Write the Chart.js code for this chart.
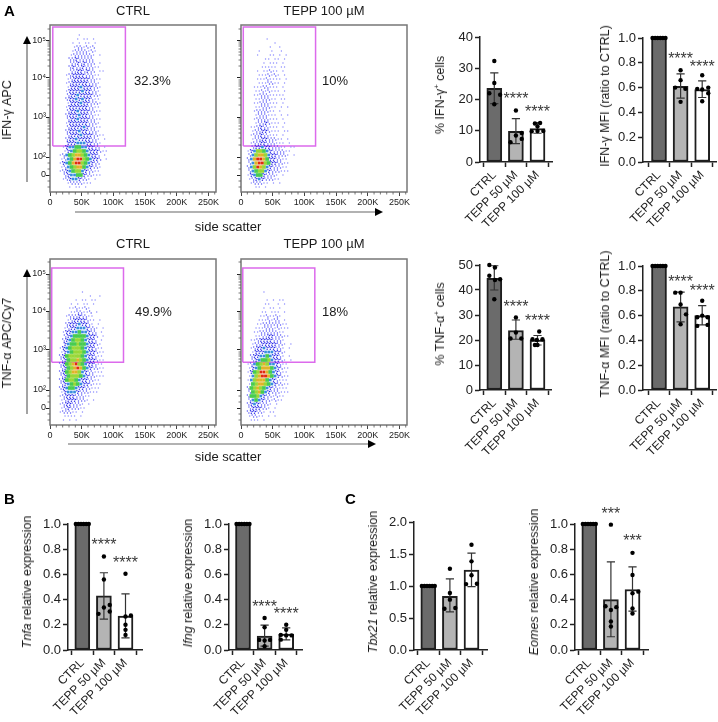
<!DOCTYPE html>
<html>
<head>
<meta charset="utf-8">
<title>TEPP flow and expression panels</title>
<script src="https://cdn.jsdelivr.net/npm/chart.js@4/dist/chart.umd.min.js"></script>
<style>
  body { margin: 0; background: #fff; width: 718px; height: 722px; position: relative; overflow: hidden; font-family: "Liberation Sans", Arial, sans-serif; color: #1a1a1a; }
  canvas { position: absolute; filter: blur(0.3px); }
  canvas.flow { filter: blur(0.4px); }
  .txt { position: absolute; white-space: nowrap; transform: translate(-50%, -50%); font-size: 13px; filter: blur(0.2px); }
  .txt.left { transform: translate(0, -50%); }
  .txt.rot { transform: translate(-50%, -50%) rotate(-90deg); font-size: 12.5px; }
  .txt.letter { font-weight: bold; font-size: 15px; color: #000; }
  sup { font-size: 8px; line-height: 0; }
  svg { position: absolute; left: 0; top: 0; }
</style>
</head>
<body>
<svg width="718" height="722">
  <g stroke="#666" stroke-width="1.2" fill="none">
    <line x1="75" y1="212" x2="376" y2="212"/>
    <line x1="68" y1="444" x2="369" y2="444"/>
    <line x1="27" y1="182" x2="27" y2="42"/>
    <line x1="27" y1="414" x2="27" y2="275"/>
  </g>
  <g fill="#000">
    <polygon points="375,208 375,216 383,212"/>
    <polygon points="368,440 368,448 376,444"/>
    <polygon points="23,44 31,44 27,36"/>
    <polygon points="23,277 31,277 27,269"/>
  </g>
</svg>
<script>
const groupLabels = ["CTRL", "TEPP 50 µM", "TEPP 100 µM"];
const barColours = ["#6b6b6b", "#b4b4b4", "#ffffff"];

// flow plots: x axis in K, y axis in display channels of the biexponential scale
const flowXTicks = [0, 50, 100, 150, 200, 250];
const flowXMinor = [10, 20, 30, 40, 60, 70, 80, 90, 110, 120, 130, 140, 160, 170, 180, 190, 210, 220, 230, 240, 260];
const flowYTicks = [0, 18, 58, 97, 134];
const flowYLabels = ["0", "10²", "10³", "10⁴", "10⁵"];
const flowYMinor = [-12, -6, 6, 12, 30, 37, 42, 46, 49, 52, 54, 56, 70, 77, 82, 86, 89, 91, 93, 95, 109, 115, 120, 123, 126, 129, 131, 133, 146];
const densityColours = ["#8a8aff", "#5050f6", "#2a2ae8", "#3a8ee0", "#48cc50", "#98d838", "#e0b428", "#e02c10"];
const densitySizes = [0.7, 0.7, 0.75, 1.9, 2.6, 2.6, 2.4, 2.1];
// dots drawn inside a cell for the three sparse levels, offset in K and channels
const sparseOffsets = [
  [[0, 0]],
  [[-1.2, 1], [1.2, -1]],
  [[-1.3, 1.2], [1.3, 0.6], [0, -1.2]]
];

// density, one string per 4 channel row, one char per 5K column
const ifnCtrlTop = 140;
const ifnCtrlX0 = 17.5;
const ifnCtrlGrid = [
  "......1........",
  ".....1.11.1....",
  "....1.1.11.1...",
  "....1221212....",
  "....12222121...",
  "...12222221.1..",
  "...22322222....",
  "...22323222.1..",
  "...2322322211..",
  "...22332322.11.",
  "..12333322211..",
  "..12333332211..",
  "..12333332221..",
  "..13334333221..",
  "..13333433221..",
  "..23343333221..",
  "..23343433211..",
  "..13334332221..",
  "..13333332211..",
  "..23343332211..",
  "..23334332211..",
  "..23343332211..",
  "..13333332221..",
  "..23333432211..",
  "..23334332221..",
  "..233343332211.",
  "..23343333221.1",
  "..33344433221..",
  ".134455443322.1",
  ".13456654333211",
  "1245677654332.1",
  "1245788654332.1",
  "1345788654322..",
  "1245677543221..",
  "1234566432211..",
  ".234455322111..",
  ".123443221.1...",
  "..12222111.....",
  "...1.11.1......"
];
const ifnTeppTop = 136;
const ifnTeppX0 = 12.5;
const ifnTeppGrid = [
  "......1........",
  "........1......",
  ".......1..1....",
  "...1...1..1....",
  "...1...11.1.1..",
  ".....11.11.1...",
  ".....1.111.1...",
  "....11111.11...",
  "...1.11211.1...",
  "...1112121.1...",
  "...11121111.1..",
  "...1112211.1...",
  "..11122111.1...",
  "..11212111.1...",
  "..1122211111...",
  "..1122211.11...",
  "..11222111.1...",
  "..1122211.1.1..",
  "..1222211.1....",
  "..1222111.1.1..",
  "..12222111.1...",
  "..12232111.1...",
  ".112322111.1...",
  ".122332111.11..",
  ".122322111.1...",
  ".1223322211.1..",
  ".12233222111.1.",
  ".23343322211.11",
  "13466543222211.",
  "2467764332221.1",
  "2478875332211..",
  "2478865332211..",
  "2468764322211..",
  "2456643222111..",
  "1345532221.1...",
  "1234322211.....",
  ".122211.1.1....",
  "..11.1........."
];
const tnfCtrlTop = 116;
const tnfCtrlX0 = 12.5;
const tnfCtrlGrid = [
  "........1......",
  "..........1..1.",
  "......1.11.11..",
  "....1.1.11.1...",
  "....1121121....",
  "....1122112.1..",
  "...122232211...",
  "...123333211.1.",
  "...233343321.1.",
  "..12334443221.1",
  "..13344544322.1",
  "..23455554332.1",
  "..23456654332.1",
  "..345565543321.",
  ".13456665433211",
  ".13456665433211",
  ".23566665433211",
  ".23566765433211",
  ".23567865433211",
  ".23567875432211",
  ".23567764322111",
  ".23566654322111",
  ".2356654332211.",
  ".2345654332111.",
  ".2345543322111.",
  ".134443222111..",
  ".1233322211....",
  ".123332221.1...",
  ".12332221.1....",
  ".12322211......",
  ".122211.1......",
  "..1111.1.......",
  "..1.1.1........"
];
const tnfTeppTop = 116;
const tnfTeppX0 = 7.5;
const tnfTeppGrid = [
  "......1........",
  "...............",
  ".......1.1.11..",
  "......11..1.1..",
  "......1.11.1...",
  ".....11.111.1..",
  ".....1121121...",
  "....1112122.1..",
  "....1122222211.",
  "...11122212111.",
  "...1122222211..",
  "...11223322211.",
  "..11233332221..",
  "..12233333221.1",
  "..12334333221.1",
  "..13334443321..",
  "..23344543321.1",
  "..23455643321.1",
  ".1245676443211.",
  ".1345777543211.",
  ".1356887543211.",
  ".1467887543211.",
  ".1467775432111.",
  ".1567765432211.",
  ".2567654322111.",
  ".2567543222111.",
  ".255643221211..",
  ".24543221211...",
  ".23432221.1....",
  ".2333221.1.....",
  ".233221.11.....",
  ".12211.1.1.....",
  "..111.1........"
];

// bar panels: means, error bar ends, dots (group + jitter on x), stars
const ifnPctMeans = [23.6, 9.8, 10.7];
const ifnPctHi = [28.5, 13.9, 12.6];
const ifnPctLo = [18.7, 5.9, 9.2];
const ifnPctDotX = [0, 0, -0.23, 0.27, 0, 1, 1.27, 1, 1.27, 0.75, 1.88, 2.12, 2, 1.73, 2, 2.27];
const ifnPctDotY = [32.3, 25.3, 22, 21.5, 18.5, 16.5, 9.3, 8.5, 7.4, 6.3, 12.3, 12.5, 11.4, 9.8, 9.9, 9.9];
const ifnPctStars = [21.3, 17.4];

const ifnMfiMeans = [1, 0.61, 0.585];
const ifnMfiHi = [null, 0.71, 0.655];
const ifnMfiLo = [null, 0.515, 0.52];
const ifnMfiDotX = [-0.3, -0.18, -0.06, 0.06, 0.18, 0.3, 1, 1, 0.75, 1.22, 1, 2, 1.77, 2, 2.28, 2.28, 2];
const ifnMfiDotY = [1, 1, 1, 1, 1, 1, 0.74, 0.66, 0.6, 0.59, 0.485, 0.7, 0.59, 0.585, 0.6, 0.555, 0.49];
const ifnMfiStars = [0.863, 0.796];

const tnfPctMeans = [44.7, 23.8, 20];
const tnfPctHi = [49.7, 28, 21.8];
const tnfPctLo = [40, 20.3, 18];
const tnfPctDotX = [-0.23, 0.03, -0.23, 0.03, 0.27, 0, 1, 1, 0.75, 1.25, 2.08, 1.77, 2.23, 1.97, 1.88, 2];
const tnfPctDotY = [50, 49, 45.7, 44, 44.3, 36.3, 29, 23, 20.6, 20.6, 23.4, 20.3, 20.3, 20, 18, 18];
const tnfPctStars = [35, 29.3];

const tnfMfiMeans = [1, 0.67, 0.6];
const tnfMfiHi = [null, 0.79, 0.68];
const tnfMfiLo = [null, 0.55, 0.525];
const tnfMfiDotX = [-0.3, -0.18, -0.06, 0.06, 0.18, 0.3, 0.75, 1, 1, 1.25, 1, 2, 1.77, 2.25, 2, 1.77, 2.25];
const tnfMfiDotY = [1, 1, 1, 1, 1, 1, 0.785, 0.785, 0.69, 0.61, 0.53, 0.72, 0.587, 0.587, 0.6, 0.517, 0.525];
const tnfMfiStars = [0.9, 0.834];

const tnfaMeans = [1, 0.43, 0.27];
const tnfaHi = [null, 0.613, 0.445];
const tnfaLo = [null, 0.245, 0.097];
const tnfaDotX = [-0.3, -0.18, -0.06, 0.06, 0.18, 0.3, 1, 1, 1, 1.27, 1.27, 0.75, 2, 2, 2.25, 2, 2, 2];
const tnfaDotY = [1, 1, 1, 1, 1, 1, 0.742, 0.56, 0.337, 0.358, 0.305, 0.287, 0.605, 0.266, 0.274, 0.2, 0.16, 0.12];
const tnfaStars = [0.863, 0.726];

const ifngMeans = [1, 0.11, 0.127];
const ifngHi = [null, 0.198, 0.175];
const ifngLo = [null, 0.03, 0.08];
const ifngDotX = [-0.3, -0.18, -0.06, 0.06, 0.18, 0.3, 1, 1, 0.75, 1.25, 1, 1, 2, 2, 1.75, 2.25, 2, 1.75];
const ifngDotY = [1, 1, 1, 1, 1, 1, 0.254, 0.18, 0.08, 0.08, 0.075, 0.03, 0.2, 0.16, 0.12, 0.116, 0.116, 0.082];
const ifngStars = [0.373, 0.315];

const tbx21Means = [1, 0.84, 1.25];
const tbx21Hi = [null, 1.11, 1.515];
const tbx21Lo = [null, 0.595, 0.99];
const tbx21DotX = [-0.3, -0.18, -0.06, 0.06, 0.18, 0.3, 1, 1, 1, 0.75, 1.25, 2, 2, 2, 1.75, 2.25];
const tbx21DotY = [1, 1, 1, 1, 1, 1, 1.27, 0.89, 0.787, 0.645, 0.656, 1.645, 1.385, 1.167, 1.03, 1.036];

const eomesMeans = [1, 0.4, 0.48];
const eomesHi = [null, 0.7, 0.66];
const eomesLo = [null, 0.105, 0.308];
const eomesDotX = [-0.3, -0.18, -0.06, 0.06, 0.18, 0.3, 1, 0.75, 1, 1.25, 1, 1, 2, 2, 2, 2.27, 2, 2];
const eomesDotY = [1, 1, 1, 1, 1, 1, 0.995, 0.347, 0.318, 0.34, 0.226, 0.187, 0.771, 0.595, 0.45, 0.463, 0.33, 0.29];
const eomesStars = [1.113, 0.895];

const starText = ["****", "****"];
const starTextC = ["***", "***"];

function addText(x, y, html, cls) {
  const d = document.createElement("div");
  d.className = "txt " + (cls || "");
  d.style.left = x + "px";
  d.style.top = y + "px";
  d.innerHTML = html;
  document.body.appendChild(d);
}

function addCanvas(left, top, w, h) {
  const c = document.createElement("canvas");
  c.width = w;
  c.height = h;
  c.style.left = left + "px";
  c.style.top = top + "px";
  document.body.appendChild(c);
  return c;
}

const flowOverlay = {
  id: "flowOverlay",
  afterDraw(chart) {
    const ctx = chart.ctx, a = chart.chartArea;
    const sx = chart.scales.x, sy = chart.scales.y;
    ctx.save();
    ctx.strokeStyle = "#777";
    ctx.lineWidth = 1.5;
    ctx.strokeRect(a.left, a.top, a.right - a.left, a.bottom - a.top);
    ctx.strokeStyle = "#555";
    ctx.lineWidth = 0.8;
    ctx.beginPath();
    flowXMinor.forEach(v => {
      const px = sx.getPixelForValue(v);
      ctx.moveTo(px, a.bottom);
      ctx.lineTo(px, a.bottom + 2.5);
    });
    flowYMinor.forEach(v => {
      const py = sy.getPixelForValue(v);
      if (py > a.top && py < a.bottom) {
        ctx.moveTo(a.left, py);
        ctx.lineTo(a.left - 2.5, py);
      }
    });
    ctx.stroke();
    ctx.restore();
  }
};

function flowPanel(left, right, top, bottom, yMin, yMax, grid, gridTop, x0, gateX, gateY, showY) {
  const padL = 32, padR = 14, padT = 6, padB = 20;
  const canvas = addCanvas(left - padL, top - padT, right - left + padL + padR, bottom - top + padT + padB);
  canvas.className = "flow";
  const levels = densityColours.map(() => []);
  grid.forEach((row, r) => {
    for (let i = 0; i < row.length; i++) {
      const d = parseInt(row[i]);
      if (!(d > 0)) continue;
      const cx = x0 + i * 5 + (r % 2 ? 1.25 : -1.25), cy = gridTop - r * 4;
      if (d <= 3) sparseOffsets[d - 1].forEach(o => levels[d - 1].push({ x: cx + o[0], y: cy + o[1] }));
      else levels[d - 1].push({ x: cx, y: cy });
    }
  });
  const dots = levels.map((pts, k) => ({
    data: pts,
    pointStyle: k < 3 ? "circle" : "rect",
    pointRadius: densitySizes[k],
    pointBackgroundColor: densityColours[k],
    pointBorderWidth: 0,
    showLine: false
  }));
  const gate = {
    data: gateX.map((x, i) => ({ x: x, y: gateY[i] })),
    showLine: true,
    borderColor: "#dc6aec",
    borderWidth: 1.5,
    pointRadius: 0,
    fill: false
  };
  new Chart(canvas, {
    type: "scatter",
    data: { datasets: dots.concat([gate]) },
    plugins: [flowOverlay],
    options: {
      responsive: false,
      animation: false,
      layout: { autoPadding: false, padding: { top: padT, right: padR } },
      plugins: { legend: { display: false }, tooltip: { enabled: false } },
      scales: {
        x: {
          type: "linear", min: 0, max: 262,
          afterFit(s) { s.height = padB; },
          afterBuildTicks(s) { s.ticks = flowXTicks.map(v => ({ value: v })); },
          border: { display: false },
          grid: { drawOnChartArea: false, tickLength: 4, tickColor: "#444", tickWidth: 1 },
          ticks: { autoSkip: false, maxRotation: 0, padding: 1, font: { size: 9, family: "Liberation Sans" }, color: "#222",
            callback: v => (v === 0 ? "0" : v + "K") }
        },
        y: {
          type: "linear", min: yMin, max: yMax,
          afterFit(s) { s.width = padL; },
          afterBuildTicks(s) { s.ticks = flowYTicks.map(v => ({ value: v })); },
          border: { display: false },
          grid: { drawOnChartArea: false, tickLength: 4, tickColor: "#222", tickWidth: 1 },
          ticks: { autoSkip: false, padding: 0, font: { size: 9, family: "Liberation Sans" }, color: "#222",
            callback: (v, i) => (showY ? flowYLabels[i] : "") }
        }
      }
    }
  });
}

const starPlugin = {
  id: "stars",
  afterDatasetsDraw(chart, args, opts) {
    if (!opts.values) return;
    const ctx = chart.ctx;
    ctx.save();
    ctx.font = "16px 'Liberation Sans'";
    ctx.fillStyle = "#3a3a3a";
    ctx.textAlign = "center";
    ctx.textBaseline = "alphabetic";
    opts.values.forEach((v, i) => {
      ctx.fillText(opts.text[i], chart.scales.x.getPixelForValue(i + 1), chart.scales.y.getPixelForValue(v) + 9);
    });
    ctx.restore();
  }
};

function barPanel(left, right, top, bottom, x0, yMax, yStep, decimals, means, hi, lo, dotX, dotY, stars, starLabels) {
  const padL = 40, padR = 6, padT = 24, padB = 84;
  const canvas = addCanvas(left - padL, top - padT, right - left + padL + padR, bottom - top + padT + padB);
  const unit = 21.6;
  const errPts = [];
  means.forEach((m, i) => {
    if (hi[i] === null) return;
    errPts.push({ x: i - 0.19, y: hi[i] }, { x: i + 0.19, y: hi[i] }, { x: i, y: null },
      { x: i, y: hi[i] }, { x: i, y: lo[i] }, { x: i, y: null },
      { x: i - 0.19, y: lo[i] }, { x: i + 0.19, y: lo[i] }, { x: i, y: null });
  });
  new Chart(canvas, {
    data: {
      datasets: [
        { type: "bar", data: means.map((m, i) => ({ x: i, y: m })), backgroundColor: barColours,
          borderColor: "#1e1e1e", borderWidth: 2, borderSkipped: false, barThickness: 15, order: 3 },
        { type: "scatter", data: errPts, showLine: true, spanGaps: false, borderColor: "#333", borderWidth: 1.2,
          pointRadius: 0, clip: false, order: 2 },
        { type: "scatter", data: dotX.map((x, i) => ({ x: x, y: dotY[i] })), pointRadius: 2.2,
          pointBackgroundColor: "#000", pointBorderWidth: 0, clip: false, order: 1 }
      ]
    },
    plugins: [starPlugin],
    options: {
      responsive: false,
      animation: false,
      layout: { autoPadding: false, padding: { top: padT, right: padR } },
      plugins: { legend: { display: false }, tooltip: { enabled: false }, stars: { values: stars, text: starLabels } },
      scales: {
        x: {
          type: "linear", offset: false, min: (left - x0) / unit, max: (right - x0) / unit,
          afterFit(s) { s.height = padB; },
          afterBuildTicks(s) { s.ticks = [0, 1, 2].map(v => ({ value: v })); },
          border: { color: "#222", width: 1.5 },
          grid: { drawOnChartArea: false, tickLength: 5, tickColor: "#222", tickWidth: 1.5 },
          ticks: { autoSkip: false, minRotation: 45, maxRotation: 45, padding: 1, font: { size: 12, family: "Liberation Sans" }, color: "#222",
            callback: v => groupLabels[v] }
        },
        y: {
          type: "linear", min: 0, max: yMax,
          afterFit(s) { s.width = padL; },
          border: { color: "#222", width: 1.5 },
          grid: { drawOnChartArea: false, tickLength: 5, tickColor: "#222", tickWidth: 1.5 },
          ticks: { stepSize: yStep, padding: 2, font: { size: 13, family: "Liberation Sans" }, color: "#222",
            callback: v => v.toFixed(decimals) }
        }
      }
    }
  });
}

// flow plots
flowPanel(50, 216, 25, 192, -17, 150, ifnCtrlGrid, ifnCtrlTop, ifnCtrlX0, [4.4, 119, 119, 4.4, 4.4], [29, 29, 148, 148, 29], true);
flowPanel(241, 407, 25, 192, -17, 150, ifnTeppGrid, ifnTeppTop, ifnTeppX0, [3.6, 117.7, 117.7, 3.6, 3.6], [29, 29, 148, 148, 29], false);
flowPanel(50, 216, 259, 425, -17, 149, tnfCtrlGrid, tnfCtrlTop, tnfCtrlX0, [2.7, 116, 116, 2.7, 2.7], [45.7, 45.7, 140, 140, 45.7], true);
flowPanel(241, 407, 259, 425, -17, 149, tnfTeppGrid, tnfTeppTop, tnfTeppX0, [2.8, 116.5, 116.5, 2.8, 2.8], [45.7, 45.7, 140, 140, 45.7], false);

// bars, panel A
barPanel(480, 552, 37, 162, 494.3, 40, 10, 0, ifnPctMeans, ifnPctHi, ifnPctLo, ifnPctDotX, ifnPctDotY, ifnPctStars, starText);
barPanel(643, 716, 38, 162, 659, 1, 0.2, 1, ifnMfiMeans, ifnMfiHi, ifnMfiLo, ifnMfiDotX, ifnMfiDotY, ifnMfiStars, starText);
barPanel(480, 551, 265, 390, 494.3, 50, 10, 0, tnfPctMeans, tnfPctHi, tnfPctLo, tnfPctDotX, tnfPctDotY, tnfPctStars, starText);
barPanel(643, 716, 266, 390, 659, 1, 0.2, 1, tnfMfiMeans, tnfMfiHi, tnfMfiLo, tnfMfiDotX, tnfMfiDotY, tnfMfiStars, starText);

// panels B and C
barPanel(68, 142, 524, 650, 82.3, 1, 0.2, 1, tnfaMeans, tnfaHi, tnfaLo, tnfaDotX, tnfaDotY, tnfaStars, starText);
barPanel(229, 302, 524, 650, 243, 1, 0.2, 1, ifngMeans, ifngHi, ifngLo, ifngDotX, ifngDotY, ifngStars, starText);
barPanel(414, 487, 522, 650, 428.3, 2, 0.5, 1, tbx21Means, tbx21Hi, tbx21Lo, tbx21DotX, tbx21DotY, null, null);
barPanel(575, 648, 524, 650, 589.3, 1, 0.2, 1, eomesMeans, eomesHi, eomesLo, eomesDotX, eomesDotY, eomesStars, starTextC);

// text
addText(4, 10, "A", "left letter");
addText(4, 498, "B", "left letter");
addText(345, 498, "C", "left letter");
addText(133, 10, "CTRL");
addText(324, 10, "TEPP 100 µM");
addText(133, 243, "CTRL");
addText(324, 243, "TEPP 100 µM");
addText(134, 80, "32.3%", "left");
addText(322, 80, "10%", "left");
addText(135, 311, "49.9%", "left");
addText(322, 311, "18%", "left");
addText(228, 226, "side scatter");
addText(228, 456, "side scatter");
addText(7, 110, "IFN-γ APC", "rot");
addText(7, 343, "TNF-α APC/Cy7", "rot");
addText(440, 95, "% IFN-γ<sup>+</sup> cells", "rot");
addText(605, 96, "IFN-γ MFI (ratio to CTRL)", "rot");
addText(440, 324, "% TNF-α<sup>+</sup> cells", "rot");
addText(605, 324, "TNF-α MFI (ratio to CTRL)", "rot");
addText(27, 582, "<i>Tnfa</i> relative expression", "rot");
addText(188, 583, "<i>Ifng</i> relative expression", "rot");
addText(373, 582, "<i>Tbx21</i> relative expression", "rot");
addText(534, 582, "<i>Eomes</i> relative expression", "rot");
</script>
</body>
</html>
